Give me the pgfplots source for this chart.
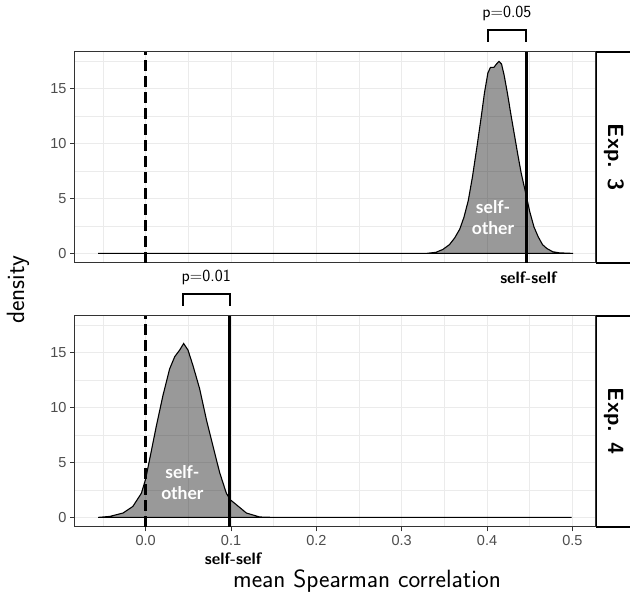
\documentclass[border=0pt]{standalone}
\usepackage{pgfplots}
\pgfplotsset{compat=1.18}
\usepackage{fontspec}
\newfontfamily\arialfont{Liberation Sans}
\newfontfamily\latofont{Lato}
\definecolor{tickgray}{HTML}{4D4D4D}
\definecolor{bordergray}{HTML}{333333}
\definecolor{gridgray}{HTML}{EBEBEB}
\pgfplotsset{
  facet/.style={
    scale only axis, width=520.5pt, height=211pt,
    xmin=-0.0834, xmax=0.5265, ymin=-0.87, ymax=18.3,
    xtick={0,0.1,0.2,0.3,0.4,0.5}, ytick={0,5,10,15},
    minor xtick={-0.05,0.05,0.15,0.25,0.35,0.45},
    minor ytick={2.5,7.5,12.5,17.5},
    grid=both,
    major grid style={gridgray, line width=1pt},
    minor grid style={gridgray, line width=0.5pt},
    minor tick length=0pt,
    major tick length=4.5pt,
    tick align=outside,
    xtick pos=bottom, ytick pos=left,
    tick style={bordergray, line width=1pt},
    axis line style={bordergray, line width=1pt},
    /pgf/number format/assume math mode=true,
    ticklabel style={font=\arialfont\fontsize{14.5}{16}\selectfont, text=tickgray},
    xticklabel style={/pgf/number format/.cd, fixed, fixed zerofill, precision=1},
    clip=false,
    axis on top=false,
  },
  dens/.style={draw=black, line width=1.1pt, fill=black, fill opacity=0.4},
}
\begin{document}
\begin{tikzpicture}[x=1pt,y=1pt]
\useasboundingbox (0,0) rectangle (630,594);
% ---------- Exp. 3 ----------
\begin{axis}[facet, at={(74.5pt,331pt)}, anchor=south west,
  xticklabels={}, xtick style={draw=none}]
\addplot[dens] coordinates {
(-0.0557,0) (0.30,0) (0.33,0.01) (0.340,0.1) (0.348,0.35) (0.356,0.8)
(0.362,1.4) (0.368,2.2) (0.373,3.3) (0.378,4.8) (0.383,7.0) (0.388,9.6)
(0.393,12.3) (0.397,14.6) (0.401,16.4) (0.404,16.9) (0.408,16.9) (0.411,17.2)
(0.414,17.45) (0.417,17.2) (0.420,16.2) (0.424,14.5) (0.428,12.6) (0.432,10.8)
(0.436,9.0) (0.440,7.3) (0.4458,5.3) (0.450,3.8) (0.455,2.4) (0.460,1.5)
(0.465,0.8) (0.470,0.45) (0.477,0.15) (0.485,0.05) (0.5008,0)
} \closedcycle;
\addplot[black, line width=2.4pt, dash pattern=on 11pt off 5pt] coordinates {(0,-0.87) (0,18.3)};
\addplot[black, line width=3pt] coordinates {(0.4458,-0.87) (0.4458,18.3)};
\draw[black, line width=1.8pt] (axis cs:0.4008,19.25) -- (axis cs:0.4008,20.3) -- (axis cs:0.4458,20.3) -- (axis cs:0.4458,19.25);
\node[anchor=base, font=\sffamily\fontsize{17}{19}\selectfont] at (axis cs:0.4233,21.4) {p=0.05};
\node[font=\sffamily\bfseries\fontsize{16.5}{19}\selectfont] at (axis cs:0.4485,-2.2) {self-self};
\node[font=\latofont\bfseries\fontsize{17.5}{21}\selectfont, text=white, align=center] at (axis cs:0.407,3.25) {self-\\other};
\end{axis}
% ---------- Exp. 4 ----------
\begin{axis}[facet, at={(74.5pt,67pt)}, anchor=south west]
\addplot[dens] coordinates {
(-0.0558,0) (-0.042,0.09) (-0.0265,0.4) (-0.015,1.0) (-0.005,2.2) (0,3.5)
(0.0047,5.3) (0.0125,8.3) (0.0203,11.1) (0.0281,13.5) (0.034,14.6) (0.0398,15.2)
(0.0445,15.8) (0.0496,15.2) (0.0554,13.8) (0.0632,11.7) (0.0711,8.9) (0.0788,6.5)
(0.0866,4.1) (0.0945,2.2) (0.0992,1.6) (0.1062,1.16) (0.118,0.4) (0.1335,0.04)
(0.15,0) (0.499,0)
} \closedcycle;
\addplot[black, line width=2.4pt, dash pattern=on 11pt off 5pt] coordinates {(0,-0.87) (0,18.3)};
\addplot[black, line width=3pt] coordinates {(0.0985,-0.87) (0.0985,18.3)};
\draw[black, line width=1.8pt] (axis cs:0.0436,19.25) -- (axis cs:0.0436,20.3) -- (axis cs:0.0985,20.3) -- (axis cs:0.0985,19.25);
\node[anchor=base, font=\sffamily\fontsize{17}{19}\selectfont] at (axis cs:0.071,21.4) {p=0.01};
\node[font=\sffamily\bfseries\fontsize{16.5}{19}\selectfont] at (axis cs:0.1025,-3.8) {self-self};
\node[font=\latofont\bfseries\fontsize{17.5}{21}\selectfont, text=white, align=center] at (axis cs:0.043,3.2) {self-\\other};
\end{axis}
% ---------- strips ----------
\draw[black, line width=1.5pt, fill=white] (596.5,331) rectangle (660,542);
\node[rotate=-90, font=\sffamily\bfseries\fontsize{22}{24}\selectfont] at (614,436.5) {Exp. 3};
\draw[black, line width=1.5pt, fill=white] (596.5,67) rectangle (660,278);
\node[rotate=-90, font=\sffamily\bfseries\fontsize{22}{24}\selectfont] at (614,172.5) {Exp. 4};
% ---------- axis titles ----------
\node[rotate=90, font=\sffamily\fontsize{25}{27}\selectfont] at (18,304) {density};
\node[anchor=base, font=\sffamily\fontsize{25}{27}\selectfont] at (367,6) {mean Spearman correlation};
\end{tikzpicture}
\end{document}
